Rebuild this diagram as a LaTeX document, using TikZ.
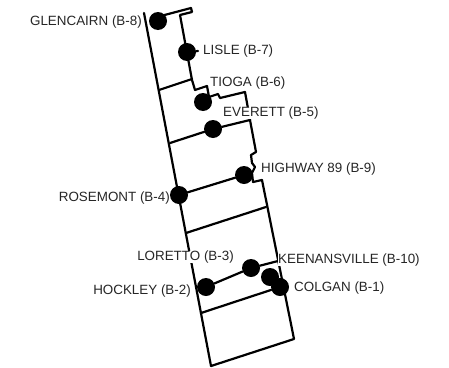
\documentclass[tikz,border=0pt]{standalone}
\usepackage{fontspec}
\setmainfont{Liberation Sans}
\tikzset{
  px/.style={x=1pt,y=-1pt},
  site/.style={circle,fill=black,inner sep=0pt,minimum size=18pt},
  lbl/.style={inner sep=0pt,fill=white,font=\fontsize{13.4pt}{15pt}\selectfont,text=black!85},
  road/.style={draw=black,line width=2.2pt,line join=round,line cap=round}
}
\begin{document}
\begin{tikzpicture}[px]
\useasboundingbox (0,0) rectangle (449,367);
% outline and cross lines
\draw[road] (144,13) -- (211,366) -- (294,339) -- (262,180) -- (253,182) -- (252,173) -- (255,167) -- (252,163) -- (251,155) -- (256,152) -- (250,120) -- (247,103) -- (245,92) -- (220,98) -- (218,94) -- (209,97) -- (207,86) -- (195,90) -- (192,80) -- (180,15) -- (192,12) -- (191,8) -- (157,17);
\coordinate (a1) at (159,90);
\coordinate (a2) at (192,79);
\coordinate (b1) at (170,143);
\coordinate (b2) at (250,120);
\coordinate (c1) at (186,233);
\coordinate (c2) at (266,207);
\coordinate (d1) at (201,313);
\coordinate (e2) at (278,261);
\coordinate (n7) at (198,51);
\draw[road] (a1) -- (a2);
\draw[road] (c1) -- (c2);
% sites
\node[site] (s8) at (158,21) {};
\node[site] (s7) at (187,52) {};
\node[site] (s6) at (203,102) {};
\node[site] (s5) at (213,129) {};
\node[site] (s9) at (244,175) {};
\node[site] (s4) at (179,195) {};
\node[site] (s3) at (251,268) {};
\node[site] (s2) at (206,287) {};
\node[site] (s10) at (270,277) {};
\node[site] (s1) at (280,287) {};
\draw[road] (b1) -- (s5) -- (b2);
\draw[road] (s4) -- (s9);
\draw[road] (s2) -- (s3) -- (e2);
\draw[road] (d1) -- (s1);
\draw[road] (s7) -- (n7);
% labels
\node[lbl,anchor=east] at (142,22) {GLENCAIRN (B-8)};
\node[lbl,anchor=west] at (203,51) {LISLE (B-7)};
\node[lbl,anchor=west] at (210,83) {TIOGA (B-6)};
\node[lbl,anchor=west] at (223,113) {EVERETT (B-5)};
\node[lbl,anchor=west] at (261,169) {HIGHWAY 89 (B-9)};
\node[lbl,anchor=east] at (170,198) {ROSEMONT (B-4)};
\node[lbl,anchor=east] at (234,257) {LORETTO (B-3)};
\node[lbl,anchor=west] at (278,260) {KEENANSVILLE (B-10)};
\node[lbl,anchor=east] at (191,291) {HOCKLEY (B-2)};
\node[lbl,anchor=west] at (294,288) {COLGAN (B-1)};
\end{tikzpicture}
\end{document}
